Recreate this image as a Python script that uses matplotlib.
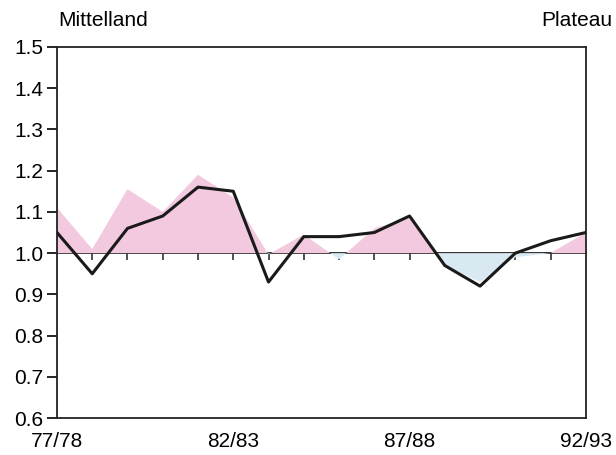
import matplotlib
matplotlib.use("Agg")
import numpy as np
import matplotlib.pyplot as plt

# seasons 77/78 .. 92/93
seasons = ["77/78", "78/79", "79/80", "80/81", "81/82", "82/83", "83/84", "84/85",
           "85/86", "86/87", "87/88", "88/89", "89/90", "90/91", "91/92", "92/93"]
# black line
line_vals = [1.05, 0.95, 1.06, 1.09, 1.16, 1.15, 0.93, 1.04,
             1.04, 1.05, 1.09, 0.97, 0.92, 1.00, 1.03, 1.05]
# shaded series (pink above 1, blue below 1)
area_vals = [1.11, 1.01, 1.155, 1.10, 1.19, 1.135, 0.997, 1.045,
             0.985, 1.06, 1.085, 0.97, 0.93, 0.99, 1.00, 1.05]
label_seasons = ["77/78", "82/83", "87/88", "92/93"]
y_ticks = [0.6, 0.7, 0.8, 0.9, 1.0, 1.1, 1.2, 1.3, 1.4, 1.5]

plt.rcParams['font.family'] = ['Liberation Sans', 'DejaVu Sans']

x = np.arange(len(seasons))
area = np.array(area_vals)

fig = plt.figure(figsize=(6.16, 4.55), dpi=100)
ax = fig.add_axes([0.0925, 0.081, 0.8585, 0.816])

ax.fill_between(x, 1.0, area, where=area >= 1.0, interpolate=True,
                color='#f2c9de', linewidth=0)
ax.fill_between(x, 1.0, area, where=area <= 1.0, interpolate=True,
                color='#d8e9f2', linewidth=0)
ax.plot(x, line_vals, color='#1a1a1a', linewidth=2.2, zorder=5)

ax.set_xlim(0, len(seasons) - 1)
ax.set_ylim(0.6, 1.5)
ax.set_yticks(y_ticks)
ax.set_yticklabels([f"{v:.1f}" for v in y_ticks])
ax.set_xticks([seasons.index(s) for s in label_seasons])
ax.set_xticklabels(label_seasons)
ax.tick_params(axis='y', direction='out', length=7, width=1.2, labelsize=15, pad=3)
ax.tick_params(axis='x', length=0, labelsize=15, pad=10)
for sp in ax.spines.values():
    sp.set_linewidth(1.3)
    sp.set_color('#222222')

# reference line at 1.0 with small ticks at every season
sec = ax.secondary_xaxis((1.0 - 0.6) / (1.5 - 0.6))
sec.set_xticks(x[1:-1])
sec.set_xticklabels([])
sec.tick_params(direction='out', length=5, width=1.1, color='#222222')
sec.spines['bottom'].set_linewidth(1.3)
sec.spines['bottom'].set_color('#222222')

fig.text(0.094, 0.955, "Mittelland", fontsize=15, ha='left', va='center')
fig.text(0.994, 0.955, "Plateau", fontsize=15, ha='right', va='center')

fig.savefig("out.png", dpi=100)
